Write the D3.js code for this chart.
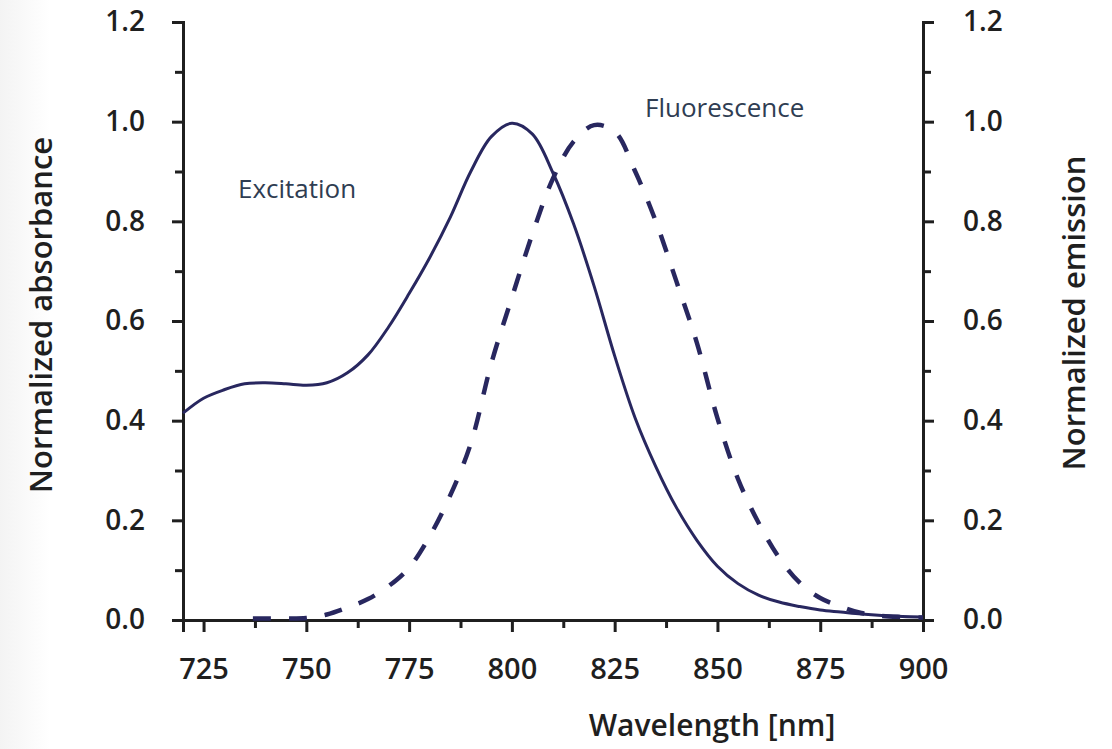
<!DOCTYPE html>
<html>
<head>
<meta charset="utf-8">
<script src="https://cdn.jsdelivr.net/npm/d3@7"></script>
<style>
  body { margin: 0; background: #fff; }
  svg { display: block; }
</style>
</head>
<body>
<div id="main"></div>
<script>
// excitation (solid)
let excWave = [720, 725, 730, 735, 740, 745, 750, 755, 760, 765, 770, 775, 780, 785, 790, 795, 800, 805, 810, 815, 820, 825, 830, 835, 840, 845, 850, 855, 860, 865, 870, 875, 880, 885, 890, 895, 900]
let excVal = [0.415, 0.445, 0.462, 0.474, 0.476, 0.474, 0.471, 0.476, 0.496, 0.532, 0.588, 0.655, 0.727, 0.808, 0.900, 0.970, 0.997, 0.975, 0.897, 0.795, 0.670, 0.530, 0.405, 0.308, 0.226, 0.160, 0.108, 0.073, 0.050, 0.036, 0.027, 0.020, 0.016, 0.012, 0.009, 0.007, 0.006]

// fluorescence (dashed)
let emWave = [737, 745, 750, 755, 760, 765, 770, 775, 780, 785, 790, 795, 800, 805, 810, 815, 820, 825, 830, 835, 840, 845, 850, 855, 860, 865, 870, 875, 880, 885, 890, 895, 900]
let emVal = [0.003, 0.003, 0.004, 0.011, 0.025, 0.042, 0.068, 0.105, 0.168, 0.250, 0.354, 0.515, 0.647, 0.775, 0.886, 0.960, 0.993, 0.980, 0.900, 0.800, 0.680, 0.556, 0.405, 0.283, 0.195, 0.125, 0.075, 0.044, 0.027, 0.014, 0.008, 0.006, 0.005]

let xTicks = [725, 750, 775, 800, 825, 850, 875, 900]
let xMinor = [737.5, 762.5, 787.5, 812.5, 837.5, 862.5, 887.5]
let yTicks = [0, 0.2, 0.4, 0.6, 0.8, 1.0, 1.2]
let yMinor = [0.1, 0.3, 0.5, 0.7, 0.9, 1.1]

let W = 1112, H = 749
let lineColor = "#28275f", inkColor = "#1f1f1f"

let svg = d3.select("#main").append("svg")
    .attr("width", W)
    .attr("height", H)

// faint grey shading at the left edge of the original scan
let defs = svg.append("defs")
let grad = defs.append("linearGradient").attr("id", "edge")
grad.append("stop").attr("offset", "0%").attr("stop-color", "#e8e8e8")
grad.append("stop").attr("offset", "100%").attr("stop-color", "#ffffff")
svg.append("rect").attr("width", 50).attr("height", H).attr("fill", "url(#edge)").attr("opacity", 0.5)

let scX = d3.scaleLinear().domain([720, 900]).range([183, 923])
let scY = d3.scaleLinear().domain([0, 1.2]).range([620, 22])

function styleAxis(g, size) {
    g.selectAll(".domain").attr("stroke", inkColor).attr("stroke-width", 3)
    g.selectAll(".tick line").attr("stroke", inkColor).attr("stroke-width", 3)
    g.selectAll("text")
        .attr("fill", inkColor)
        .attr("font-family", "'Open Sans', sans-serif")
        .attr("font-weight", 600)
        .attr("font-size", size)
}

// minor ticks
svg.append("g")
    .attr("transform", `translate(${scX.range()[0]},0)`)
    .call(d3.axisLeft(scY).tickValues(yMinor).tickSize(8).tickSizeOuter(0).tickFormat(""))
    .call(g=>styleAxis(g, 28))
svg.append("g")
    .attr("transform", `translate(${scX.range()[1]},0)`)
    .call(d3.axisRight(scY).tickValues(yMinor).tickSize(8).tickSizeOuter(0).tickFormat(""))
    .call(g=>styleAxis(g, 28))
svg.append("g")
    .attr("transform", `translate(0,${scY.range()[0]})`)
    .call(d3.axisBottom(scX).tickValues(xMinor).tickSize(8).tickSizeOuter(0).tickFormat(""))
    .call(g=>styleAxis(g, 29))

// major axes
let fmt = d3.format(".1f")
svg.append("g")
    .attr("transform", `translate(${scX.range()[0]},0)`)
    .call(d3.axisLeft(scY).tickValues(yTicks).tickFormat(fmt).tickSize(11).tickSizeOuter(11).tickPadding(27))
    .call(g=>styleAxis(g, 28))
svg.append("g")
    .attr("transform", `translate(${scX.range()[1]},0)`)
    .call(d3.axisRight(scY).tickValues(yTicks).tickFormat(fmt).tickSize(11).tickSizeOuter(11).tickPadding(29))
    .call(g=>styleAxis(g, 28))
svg.append("g")
    .attr("transform", `translate(0,${scY.range()[0]})`)
    .call(d3.axisBottom(scX).tickValues(xTicks).tickSize(12).tickSizeOuter(12).tickPadding(26))
    .call(g=>styleAxis(g, 29))

// curves
let makeLine = d3.line()
    .x(d=>scX(d[0]))
    .y(d=>scY(d[1]))
    .curve(d3.curveCatmullRom.alpha(0.5))

svg.append("path")
    .attr("d", makeLine(d3.zip(emWave, emVal)))
    .attr("fill", "none")
    .attr("stroke", lineColor)
    .attr("stroke-width", 4.5)
    .attr("stroke-dasharray", "18,18")

svg.append("path")
    .attr("d", makeLine(d3.zip(excWave, excVal)))
    .attr("fill", "none")
    .attr("stroke", lineColor)
    .attr("stroke-width", 3)

// axis titles
let title = {family: "'Open Sans', sans-serif", weight: 600, size: 31}
svg.append("text")
    .attr("transform", `translate(52, 315) rotate(-90)`)
    .attr("text-anchor", "middle")
    .attr("font-family", title.family).attr("font-weight", title.weight).attr("font-size", title.size)
    .attr("fill", inkColor)
    .text("Normalized absorbance")
svg.append("text")
    .attr("transform", `translate(1085, 313) rotate(-90)`)
    .attr("text-anchor", "middle")
    .attr("font-family", title.family).attr("font-weight", title.weight).attr("font-size", title.size)
    .attr("fill", inkColor)
    .text("Normalized emission")
svg.append("text")
    .attr("x", 712)
    .attr("y", 736)
    .attr("text-anchor", "middle")
    .attr("font-family", title.family).attr("font-weight", title.weight).attr("font-size", 30)
    .attr("fill", inkColor)
    .text("Wavelength [nm]")

// curve labels
svg.append("text")
    .attr("x", 238).attr("y", 198)
    .attr("font-family", "'Open Sans', sans-serif").attr("font-size", 26)
    .attr("fill", "#2f3d52")
    .text("Excitation")
svg.append("text")
    .attr("x", 645).attr("y", 117)
    .attr("font-family", "'Open Sans', sans-serif").attr("font-size", 26)
    .attr("fill", "#2f3d52")
    .text("Fluorescence")
</script>
</body>
</html>
